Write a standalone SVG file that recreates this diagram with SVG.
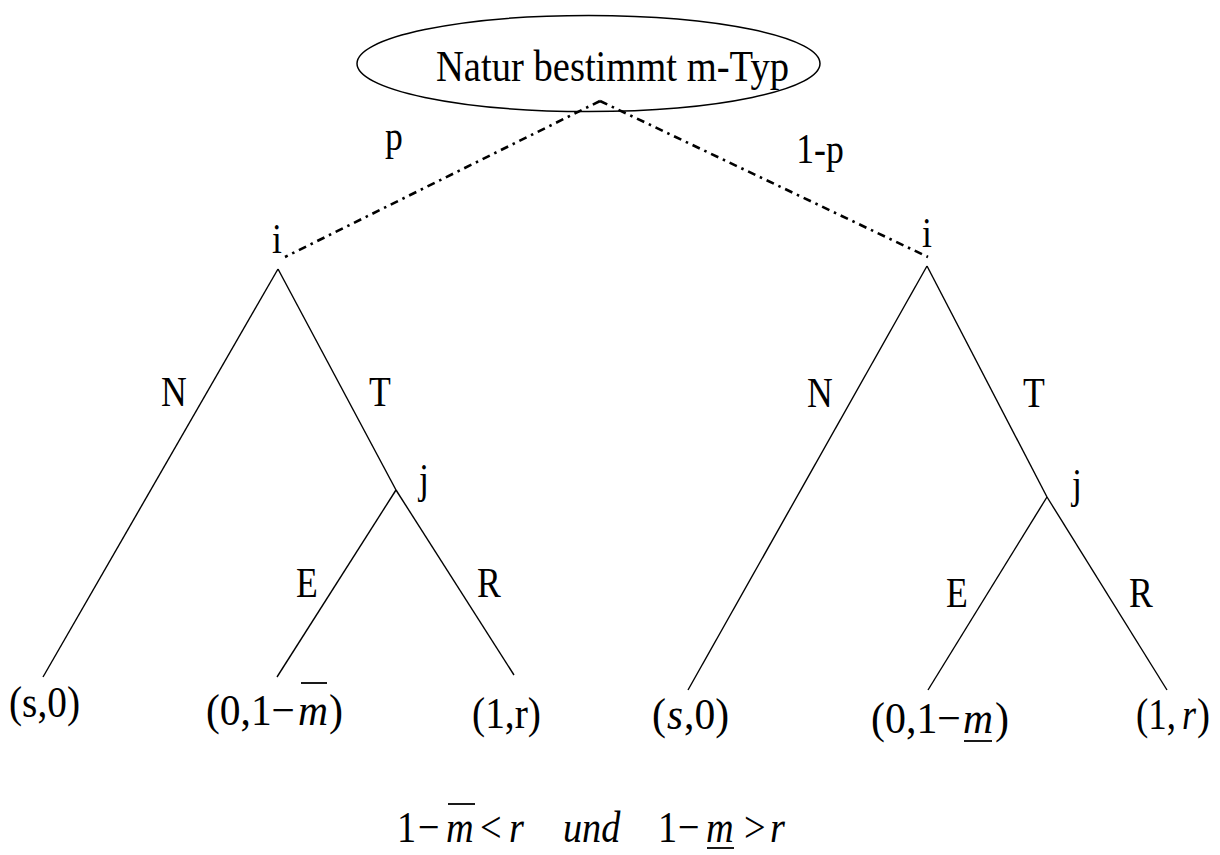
<svg xmlns="http://www.w3.org/2000/svg" width="1220" height="855" viewBox="0 0 1220 855" font-family="'Liberation Serif', serif">
<style>
text{font-family:"Liberation Serif","Times New Roman",serif;fill:#000}
.lbl{font-size:42px;text-anchor:middle}
.leaf{font-size:44px}
.it{font-style:italic}
.edge{stroke:#000;stroke-width:1.4;fill:none}
.chance{stroke:#000;stroke-width:2.6;stroke-dasharray:8 5 2.5 5;fill:none}
.bar{stroke:#000;stroke-width:1.8}
</style>
<rect width="1220" height="855" fill="#fff"/>
<g id="connectors">
  <line class="chance" x1="600" y1="101" x2="285" y2="257"/>
  <line class="chance" x1="600" y1="101" x2="928" y2="257"/>
  <line class="edge" x1="278" y1="269" x2="43" y2="677"/>
  <line class="edge" x1="278" y1="269" x2="396" y2="490"/>
  <line class="edge" x1="396" y1="490" x2="277" y2="677"/>
  <line class="edge" x1="396" y1="490" x2="514" y2="675"/>
  <line class="edge" x1="927" y1="266" x2="688" y2="690"/>
  <line class="edge" x1="927" y1="266" x2="1047" y2="497"/>
  <line class="edge" x1="1047" y1="497" x2="928" y2="690"/>
  <line class="edge" x1="1047" y1="497" x2="1167" y2="690"/>
</g>
<g id="edge-labels">
  <text class="lbl" transform="translate(394 150) scale(0.85 1)">p</text>
  <text class="lbl" transform="translate(820 163) scale(0.85 1)">1-p</text>
  <text class="lbl" transform="translate(174 406) scale(0.85 1)">N</text>
  <text class="lbl" transform="translate(380 406) scale(0.85 1)">T</text>
  <text class="lbl" transform="translate(307 597) scale(0.85 1)">E</text>
  <text class="lbl" transform="translate(489 597) scale(0.85 1)">R</text>
  <text class="lbl" transform="translate(820 407) scale(0.85 1)">N</text>
  <text class="lbl" transform="translate(1034 407) scale(0.85 1)">T</text>
  <text class="lbl" transform="translate(957 607) scale(0.85 1)">E</text>
  <text class="lbl" transform="translate(1141 607) scale(0.85 1)">R</text>
</g>
<g id="nature">
  <ellipse cx="588.5" cy="63.5" rx="231.5" ry="48" fill="none" stroke="#000" stroke-width="1.5"/>
  <text x="436" y="81" font-size="45" textLength="353" lengthAdjust="spacingAndGlyphs">Natur bestimmt m-Typ</text>
</g>
<g id="i-left"><text class="lbl" transform="translate(277 253) scale(0.85 1)">i</text></g>
<g id="i-right"><text class="lbl" transform="translate(927 247) scale(0.85 1)">i</text></g>
<g id="j-left"><text class="lbl" transform="translate(424 493) scale(0.85 1)">j</text></g>
<g id="j-right"><text class="lbl" transform="translate(1077 498) scale(0.85 1)">j</text></g>
<g id="leaf-l-N"><text class="leaf" x="9" y="717" textLength="71" lengthAdjust="spacingAndGlyphs">(s,0)</text></g>
<g id="leaf-l-E">
  <text class="leaf" x="206" y="725" textLength="89" lengthAdjust="spacingAndGlyphs">(0,1−</text>
  <text class="leaf it" x="298" y="725" textLength="30" lengthAdjust="spacingAndGlyphs">m</text>
  <text class="leaf" x="329" y="725" textLength="14" lengthAdjust="spacingAndGlyphs">)</text>
  <line class="bar" x1="301" y1="683" x2="327" y2="683"/>
</g>
<g id="leaf-l-R"><text class="leaf" x="472" y="728" textLength="69" lengthAdjust="spacingAndGlyphs">(1,r)</text></g>
<g id="leaf-r-N">
  <text class="leaf" x="652" y="729" textLength="14" lengthAdjust="spacingAndGlyphs">(</text>
  <text class="leaf it" x="667" y="729" textLength="16" lengthAdjust="spacingAndGlyphs">s</text>
  <text class="leaf" x="684" y="729" textLength="45" lengthAdjust="spacingAndGlyphs">,0)</text>
</g>
<g id="leaf-r-E">
  <text class="leaf" x="871" y="733" textLength="90" lengthAdjust="spacingAndGlyphs">(0,1−</text>
  <text class="leaf it" x="963" y="733" textLength="30" lengthAdjust="spacingAndGlyphs">m</text>
  <text class="leaf" x="995" y="733" textLength="14" lengthAdjust="spacingAndGlyphs">)</text>
  <line class="bar" x1="964" y1="741" x2="992" y2="741"/>
</g>
<g id="leaf-r-R">
  <text class="leaf" x="1136" y="729" textLength="40" lengthAdjust="spacingAndGlyphs">(1,</text>
  <text class="leaf it" x="1182" y="729" textLength="14" lengthAdjust="spacingAndGlyphs">r</text>
  <text class="leaf" x="1197" y="729" textLength="13" lengthAdjust="spacingAndGlyphs">)</text>
</g>
<g id="condition">
  <g transform="scale(0.87 1)" font-size="44">
    <text x="456.3" y="842">1</text>
    <text x="480.5" y="842">−</text>
    <text x="512.6" y="842" class="it">m</text>
    <text x="551.7" y="842">&lt;</text>
    <text x="585.1" y="842" class="it">r</text>
    <text x="647.1" y="842" class="it">und</text>
    <text x="756.3" y="842">1</text>
    <text x="779.3" y="842">−</text>
    <text x="811.5" y="842" class="it">m</text>
    <text x="855.2" y="842">&gt;</text>
    <text x="885.1" y="842" class="it">r</text>
  </g>
  <line class="bar" x1="448" y1="804" x2="475" y2="804"/>
  <line class="bar" x1="707" y1="848" x2="734" y2="848"/>
</g>
</svg>
